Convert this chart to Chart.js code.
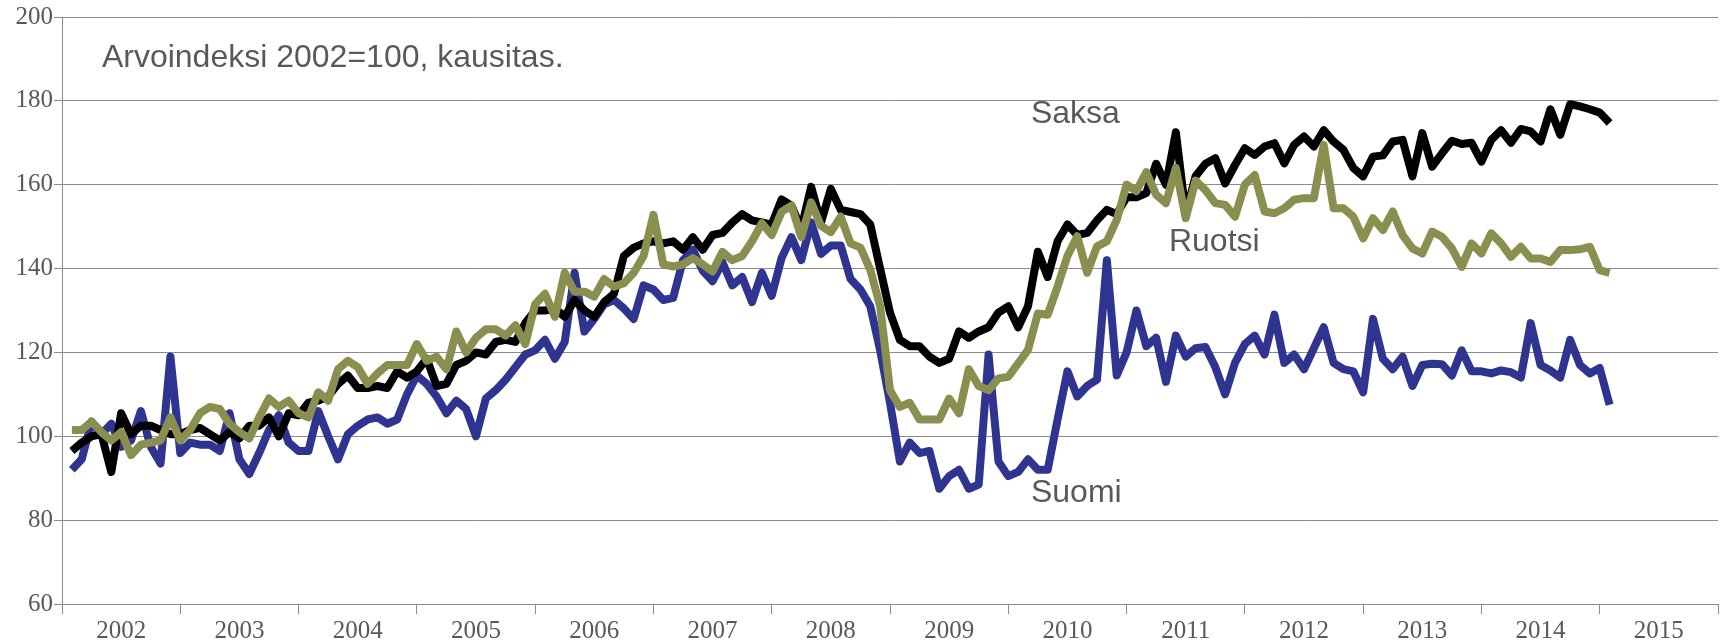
<!DOCTYPE html>
<html><head><meta charset="utf-8">
<script src="https://cdn.jsdelivr.net/npm/chart.js@4"></script>
<style>html,body{margin:0;padding:0;background:#fff;overflow:hidden}canvas{display:block}</style>
</head><body>
<canvas id="c" width="1729" height="642"></canvas>
<script>
// Year tick labels (x axis bands)
const years = ['2002','2003','2004','2005','2006','2007','2008','2009','2010','2011','2012','2013','2014','2015'];

// Monthly values, Jan 2002 onwards
const saksa = [
96.5, 98.5, 100, 100.5, 91.5, 105.5, 100.5, 102.5, 102.5, 101.5,
100.5, 100.5, 101.5, 102, 100.5, 99, 101, 99.5, 102.5, 102.5,
104.5, 100, 105.5, 105, 108, 108.5, 109.5, 112.5, 114.5, 111.5,
111.5, 112, 111.5, 115.5, 114, 115.5, 118.5, 112, 112.5, 117,
118, 120, 119.5, 122.5, 123, 122.5, 127, 130, 130, 130.5,
128.5, 132.5, 130, 128.5, 132, 134, 143, 145, 146, 146.5,
146, 146.5, 144.5, 147.5, 144.5, 148, 148.5, 151, 153, 151.5,
151, 150.5, 156.5, 155, 149.5, 159.5, 151, 159, 154, 153.5,
153, 150.5, 140, 129.5, 123, 121.5, 121.5, 119, 117.5, 118.5,
125, 123.5, 125, 126, 129.5, 131, 126, 131, 144, 138,
146.5, 150.5, 148, 148.5, 151.5, 154, 153, 157, 157, 158,
165, 160, 172.5, 153, 162, 165, 166.3, 160.3, 164.7, 168.7,
167.1, 169.1, 169.9, 165.1, 169.5, 171.5, 169.1, 173, 170.3, 168.3,
164, 162, 166.7, 167, 170.3, 170.7, 162, 172.3, 164.3, 167.5,
170.5, 169.7, 170, 165.5, 170.7, 173, 170, 173.3, 172.7, 170.3,
178, 171.9, 179.2, 178.7, 178, 177.2, 174.7
];
const ruotsi = [
101.5, 101.5, 103.5, 101, 99, 101, 95.5, 98, 98.5, 99,
104.5, 99, 101.5, 105.5, 107, 106.5, 103, 101, 99.5, 104.5,
109, 107, 108.5, 105.5, 104.5, 110.5, 108.5, 116, 118, 116.5,
112.5, 115, 117, 117, 117, 122, 118, 119, 116, 125,
120, 123.5, 125.5, 125.5, 124, 126.5, 122, 131.5, 134, 128.5,
139, 134.5, 134.5, 133.3, 137.5, 135.7, 136.5, 139, 143, 152.8,
141, 140.5, 141, 142.5, 141, 139.3, 144, 142, 143, 146.5,
150.8, 148, 153.5, 155, 147.5, 155.8, 150.2, 148.7, 152.4, 146,
145, 139.7, 131, 111, 107, 108, 104, 104, 104, 109,
105.5, 116, 112, 111, 113.8, 114.2, 117.4, 120.6, 129.3, 129,
135.7, 143, 147.7, 139, 145.3, 146.5, 151.6, 160, 158.5, 163,
157.6, 155.6, 164, 152, 161, 158.7, 155.6, 155.2, 152.4, 160,
162.3, 153.6, 153.2, 154.4, 156.4, 156.8, 156.8, 169.5, 154.4, 154.4,
152.4, 147.2, 152, 149.2, 153.6, 148, 144.8, 143.6, 148.8, 147.6,
144.8, 140.4, 146, 143.6, 148.4, 146, 142.8, 145.2, 142.4, 142.4,
141.6, 144.4, 144.4, 144.6, 145.2, 139.6, 139
];
const suomi = [
92, 94.5, 103.5, 100.5, 103, 97.5, 99, 106, 97.5, 93.5,
119, 96, 98.5, 98, 98, 96.5, 105.5, 94.5, 91, 96,
101.5, 105, 98.5, 96.5, 96.5, 106, 100, 94.5, 100.5, 102.5,
104, 104.5, 103, 104, 110, 114.5, 112.5, 109.5, 105.5, 108.5,
106.5, 100, 109, 111, 113.5, 116.5, 119.5, 120.5, 123, 118.5,
122.5, 139, 125, 128, 131.5, 132.5, 130.5, 128, 136, 135,
132.5, 133, 142, 144.5, 139.5, 137, 141.5, 136, 138, 132,
139, 133.5, 142.5, 147.5, 142, 151, 143.5, 145.5, 145.5, 137.5,
135, 131, 120.5, 108, 94, 98.5, 96, 96.5, 87.5, 90.5,
92, 87.5, 88.5, 119.5, 94, 90.5, 91.5, 94.5, 92, 92,
104, 115.5, 109.5, 112, 113.5, 142, 114.5, 120, 130, 121.5,
123.5, 113, 124, 119, 121, 121.3, 116.5, 110, 117.5, 122,
124, 119.5, 129, 117.5, 119.5, 116, 121, 126, 117.5, 116,
115.5, 110.5, 128, 118.5, 116, 119, 112, 117, 117.3, 117.2,
114.5, 120.5, 115.5, 115.5, 115, 115.7, 115.3, 114, 127, 117,
115.7, 114, 123, 117, 115, 116.3, 107.5
];

const titleText = 'Arvoindeksi 2002=100, kausitas.';
const seriesLabels = ['Saksa', 'Ruotsi', 'Suomi'];

// text anchors, in axis units (months from axis start, index value)
const textAnchors = [
  { text: titleText,       x: 4.05,  y: 188.1 },
  { text: seriesLabels[0], x: 98.3,  y: 174.6 },
  { text: seriesLabels[1], x: 112.3, y: 144.2 },
  { text: seriesLabels[2], x: 98.3,  y: 84.3 }
];

const toPoints = arr => arr.map((v, i) => ({ x: i + 1, y: v }));

const textPlugin = {
  id: 'texts',
  afterDatasetsDraw(chart) {
    const { ctx, scales: { x, y } } = chart;
    ctx.save();
    ctx.fillStyle = '#595959';
    ctx.font = "32px 'Liberation Sans', Arial, sans-serif";
    ctx.textBaseline = 'alphabetic';
    ctx.textAlign = 'left';
    for (const a of textAnchors) {
      ctx.fillText(a.text, x.getPixelForValue(a.x), y.getPixelForValue(a.y));
    }
    ctx.restore();
  }
};

const lineStyle = { borderWidth: 8, pointRadius: 0, fill: false, tension: 0, borderJoinStyle: 'round', borderCapStyle: 'butt' };
const serif = "'Liberation Serif', 'Times New Roman', serif";

new Chart(document.getElementById('c'), {
  type: 'line',
  data: {
    datasets: [
      Object.assign({ label: seriesLabels[1], data: toPoints(ruotsi), borderColor: '#8A8F50' }, lineStyle),
      Object.assign({ label: seriesLabels[0], data: toPoints(saksa), borderColor: '#000000' }, lineStyle),
      Object.assign({ label: seriesLabels[2], data: toPoints(suomi), borderColor: '#2E3490' }, lineStyle)
    ]
  },
  options: {
    responsive: false,
    devicePixelRatio: 1,
    animation: false,
    layout: { padding: { left: 0, right: 11, top: 17, bottom: 0 } },
    plugins: { legend: { display: false }, tooltip: { enabled: false } },
    scales: {
      x: {
        type: 'linear', min: 0, max: 168,
        afterFit(s) { s.height = 38; },
        afterBuildTicks(s) { const t = []; for (let v = 0; v <= 168; v += 6) t.push({ value: v }); s.ticks = t; },
        ticks: {
          autoSkip: false, maxRotation: 0, minRotation: 0, padding: 2,
          color: '#595959', font: { family: serif, size: 25 },
          callback: v => (v % 12 === 6) ? years[(v - 6) / 12] : ''
        },
        grid: {
          drawOnChartArea: false, drawTicks: true, tickLength: 10, lineWidth: 1,
          color: c => (c.tick && c.tick.value % 12 === 0) ? '#8c8c8c' : 'rgba(0,0,0,0)'
        },
        border: { display: true, color: '#8c8c8c', width: 1 }
      },
      y: {
        min: 60, max: 200,
        afterFit(s) { s.width = 62; },
        ticks: { stepSize: 20, padding: 1, color: '#595959', font: { family: serif, size: 25 } },
        grid: { color: '#8c8c8c', lineWidth: 1, tickLength: 8 },
        border: { display: true, color: '#8c8c8c', width: 1 }
      }
    }
  },
  plugins: [textPlugin]
});
</script>
</body></html>
